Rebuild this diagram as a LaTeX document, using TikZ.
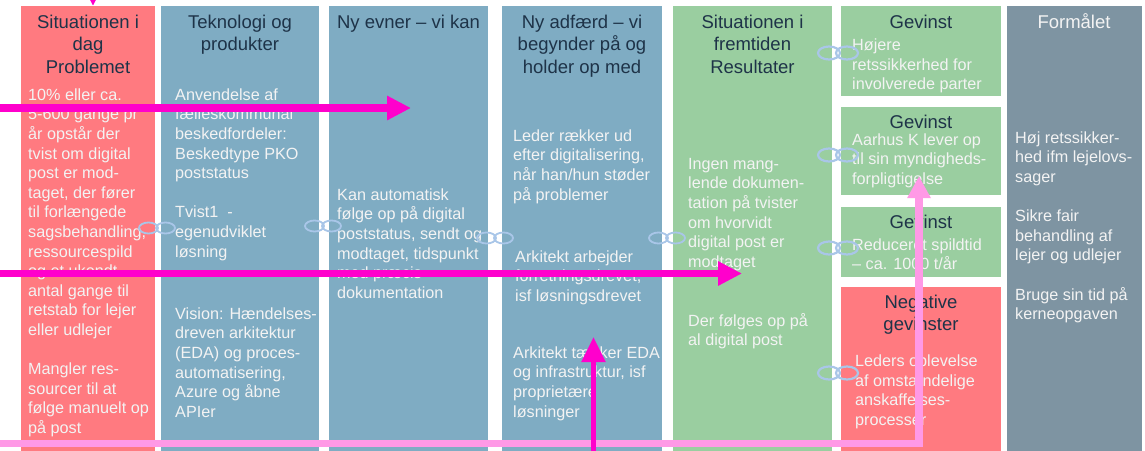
\documentclass[tikz,border=0pt]{standalone}
\usepackage{fontspec}
\setmainfont{Liberation Sans}
\usetikzlibrary{arrows.meta}
\definecolor{cred}{HTML}{FF7A80}
\definecolor{cblue}{HTML}{7FACC3}
\definecolor{cgreen}{HTML}{9ACEA0}
\definecolor{cgrey}{HTML}{7E94A2}
\definecolor{cnavy}{HTML}{1E3348}
\definecolor{ctxt}{HTML}{F3F3F3}
\definecolor{cmag}{HTML}{FF00CC}
\definecolor{cpink}{HTML}{FF99E6}
\definecolor{clink}{HTML}{A9C6E8}
\newcommand\tstrut{\rule{0pt}{15pt}}
\newcommand\bstrut{\rule{0pt}{13.5pt}}
\tikzset{
  ttl/.style={font=\fontsize{18.5}{22.5}\selectfont, text=cnavy, align=center, anchor=north, inner sep=0pt},
  bodytxt/.style={font=\fontsize{16.2}{19.6}\selectfont, text=ctxt, align=left, anchor=north west, inner sep=0pt},
  chainlink/.style={draw=clink, line width=2.2pt},
  marrow/.style={draw=cmag, line width=7.5pt, -{Triangle[length=24pt,width=23pt]}},
  varrow/.style={draw=cmag, line width=5.5pt, -{Triangle[length=25pt,width=23pt]}},
  parrow/.style={draw=cpink, line width=7.5pt, line join=miter, -{Triangle[length=22pt,width=22pt]}}
}
\begin{document}
\begin{tikzpicture}[x=1pt,y=-1pt]
\useasboundingbox (0,0) rectangle (1145,450);
\clip (0,0) rectangle (1145,450);
\fill[white] (0,0) rectangle (1145,450);
% boxes
\fill[cred]   (21,6) rectangle (155,460);
\fill[cblue]  (161,6) rectangle (319,460);
\fill[cblue]  (329,6) rectangle (488,460);
\fill[cblue]  (502,6) rectangle (662,460);
\fill[cgreen] (673,6) rectangle (832,460);
\fill[cgreen] (841,6) rectangle (1001,96);
\fill[cgreen] (841,107) rectangle (1001,195);
\fill[cgreen] (841,207) rectangle (1001,277);
\fill[cred]   (841,287) rectangle (1001,460);
\fill[cgrey]  (1007,6) rectangle (1142,460);
% titles
\node[ttl] (t1) at (88,13) {\tstrut Situationen i\\dag\\Problemet};
\node[ttl] (t2) at (240,13) {\tstrut Teknologi og\\produkter};
\node[ttl] (t3) at (408.5,13) {\tstrut Ny evner – vi kan};
\node[ttl] (t4) at (582,13) {\tstrut Ny adfærd – vi\\begynder på og\\holder op med};
\node[ttl] (t5) at (752.5,13) {\tstrut Situationen i\\fremtiden\\Resultater};
\node[ttl] (g1) at (921,13) {\tstrut Gevinst};
\node[ttl] (g2) at (921,113) {\tstrut Gevinst};
\node[ttl] (g3) at (921,213) {\tstrut Gevinst};
\node[ttl] (g4) at (921,293) {\tstrut Negative\\gevinster};
\node[ttl, text=ctxt] (t6) at (1074,13) {\tstrut Formålet};
% bodies
\node[bodytxt] (b1) at (28,86.5) {\bstrut 10\% eller ca.\\5-600 gange pr\\år opstår der\\tvist om digital\\post er mod-\\taget, der fører\\til forlængede\\sagsbehandling,\\ressourcespild\\og et ukendt\\antal gange til\\retstab for lejer\\eller udlejer\\[19.6pt]Mangler res-\\sourcer til at\\følge manuelt op\\på post};
\node[bodytxt] (b2a) at (175,86.5) {\bstrut Anvendelse af\\fælleskommunal\\beskedfordeler:\\Beskedtype PKO\\poststatus\\[19.6pt]Tvist1\ \ -\\egenudviklet\\løsning};
\node[bodytxt] (b2b) at (175,305.5) {\bstrut Vision: Hændelses-\\dreven arkitektur\\(EDA) og proces-\\automatisering,\\Azure og åbne\\APIer};
\node[bodytxt] (b3) at (337,186.5) {\bstrut Kan automatisk\\følge op på digital\\poststatus, sendt og\\modtaget, tidspunkt\\med præcis\\dokumentation};
\node[bodytxt] (b4a) at (513,127.5) {\bstrut Leder rækker ud\\efter digitalisering,\\når han/hun støder\\på problemer};
\node[bodytxt] (b4b) at (515,248.5) {\bstrut Arkitekt arbejder\\forretningsdrevet,\\isf løsningsdrevet};
\node[bodytxt] (b4c) at (513,344.5) {\bstrut Arkitekt tænker EDA\\og infrastruktur, isf\\proprietære\\løsninger};
\node[bodytxt] (b5) at (688,155.5) {\bstrut Ingen mang-\\lende dokumen-\\tation på tvister\\om hvorvidt\\digital post er\\modtaget\\[39.2pt]Der følges op på\\al digital post};
\node[bodytxt] (bg1) at (852,37) {\bstrut Højere\\retssikkerhed for\\involverede parter};
\node[bodytxt] (bg2) at (852,131.5) {\bstrut Aarhus K lever op\\til sin myndigheds-\\forpligtigelse};
\node[bodytxt] (bg3) at (852,236.5) {\bstrut Reduceret spildtid\\– ca. 1000 t/år};
\node[bodytxt] (bg4) at (855,353) {\bstrut Leders oplevelse\\af omstændelige\\anskaffelses-\\processer};
\node[bodytxt] (b6) at (1015,129.5) {\bstrut Høj retssikker-\\hed ifm lejelovs-\\sager\\[19.6pt]Sikre fair\\behandling af\\lejer og udlejer\\[19.6pt]Bruge sin tid på\\kerneopgaven};
% chain links
\foreach \cx/\cy in {838/53, 838/155, 838/248, 838/373}{
  \draw[chainlink] (\cx-9,\cy) ellipse [x radius=11, y radius=6.5];
  \draw[chainlink] (\cx+9,\cy) ellipse [x radius=11, y radius=6.5];
}
\foreach \cx/\cy in {157/228, 323/226, 495/238, 667/238}{
  \draw[chainlink, line width=1.8pt] (\cx-8.5,\cy) ellipse [x radius=9.5, y radius=5.5];
  \draw[chainlink, line width=1.8pt] (\cx+8.5,\cy) ellipse [x radius=9.5, y radius=5.5];
}
% arrows
\coordinate (pS) at (0,443.5);
\coordinate (pC) at (919,443.5);
\coordinate (pE) at (919,176);
\draw[parrow] (pS) -- (pC) -- (pE);
\coordinate (topS) at (93,-40);
\coordinate (topE) at (93,6);
\draw[marrow] (topS) -- (topE);
\coordinate (aS) at (0,108);
\coordinate (aE) at (411,108);
\draw[marrow] (aS) -- (aE);
\coordinate (bS) at (0,273.5);
\coordinate (bE) at (742,273.5);
\draw[marrow] (bS) -- (bE);
\coordinate (cS) at (593.5,455);
\coordinate (cE) at (593.5,337);
\draw[varrow] (cS) -- (cE);
\end{tikzpicture}
\end{document}
